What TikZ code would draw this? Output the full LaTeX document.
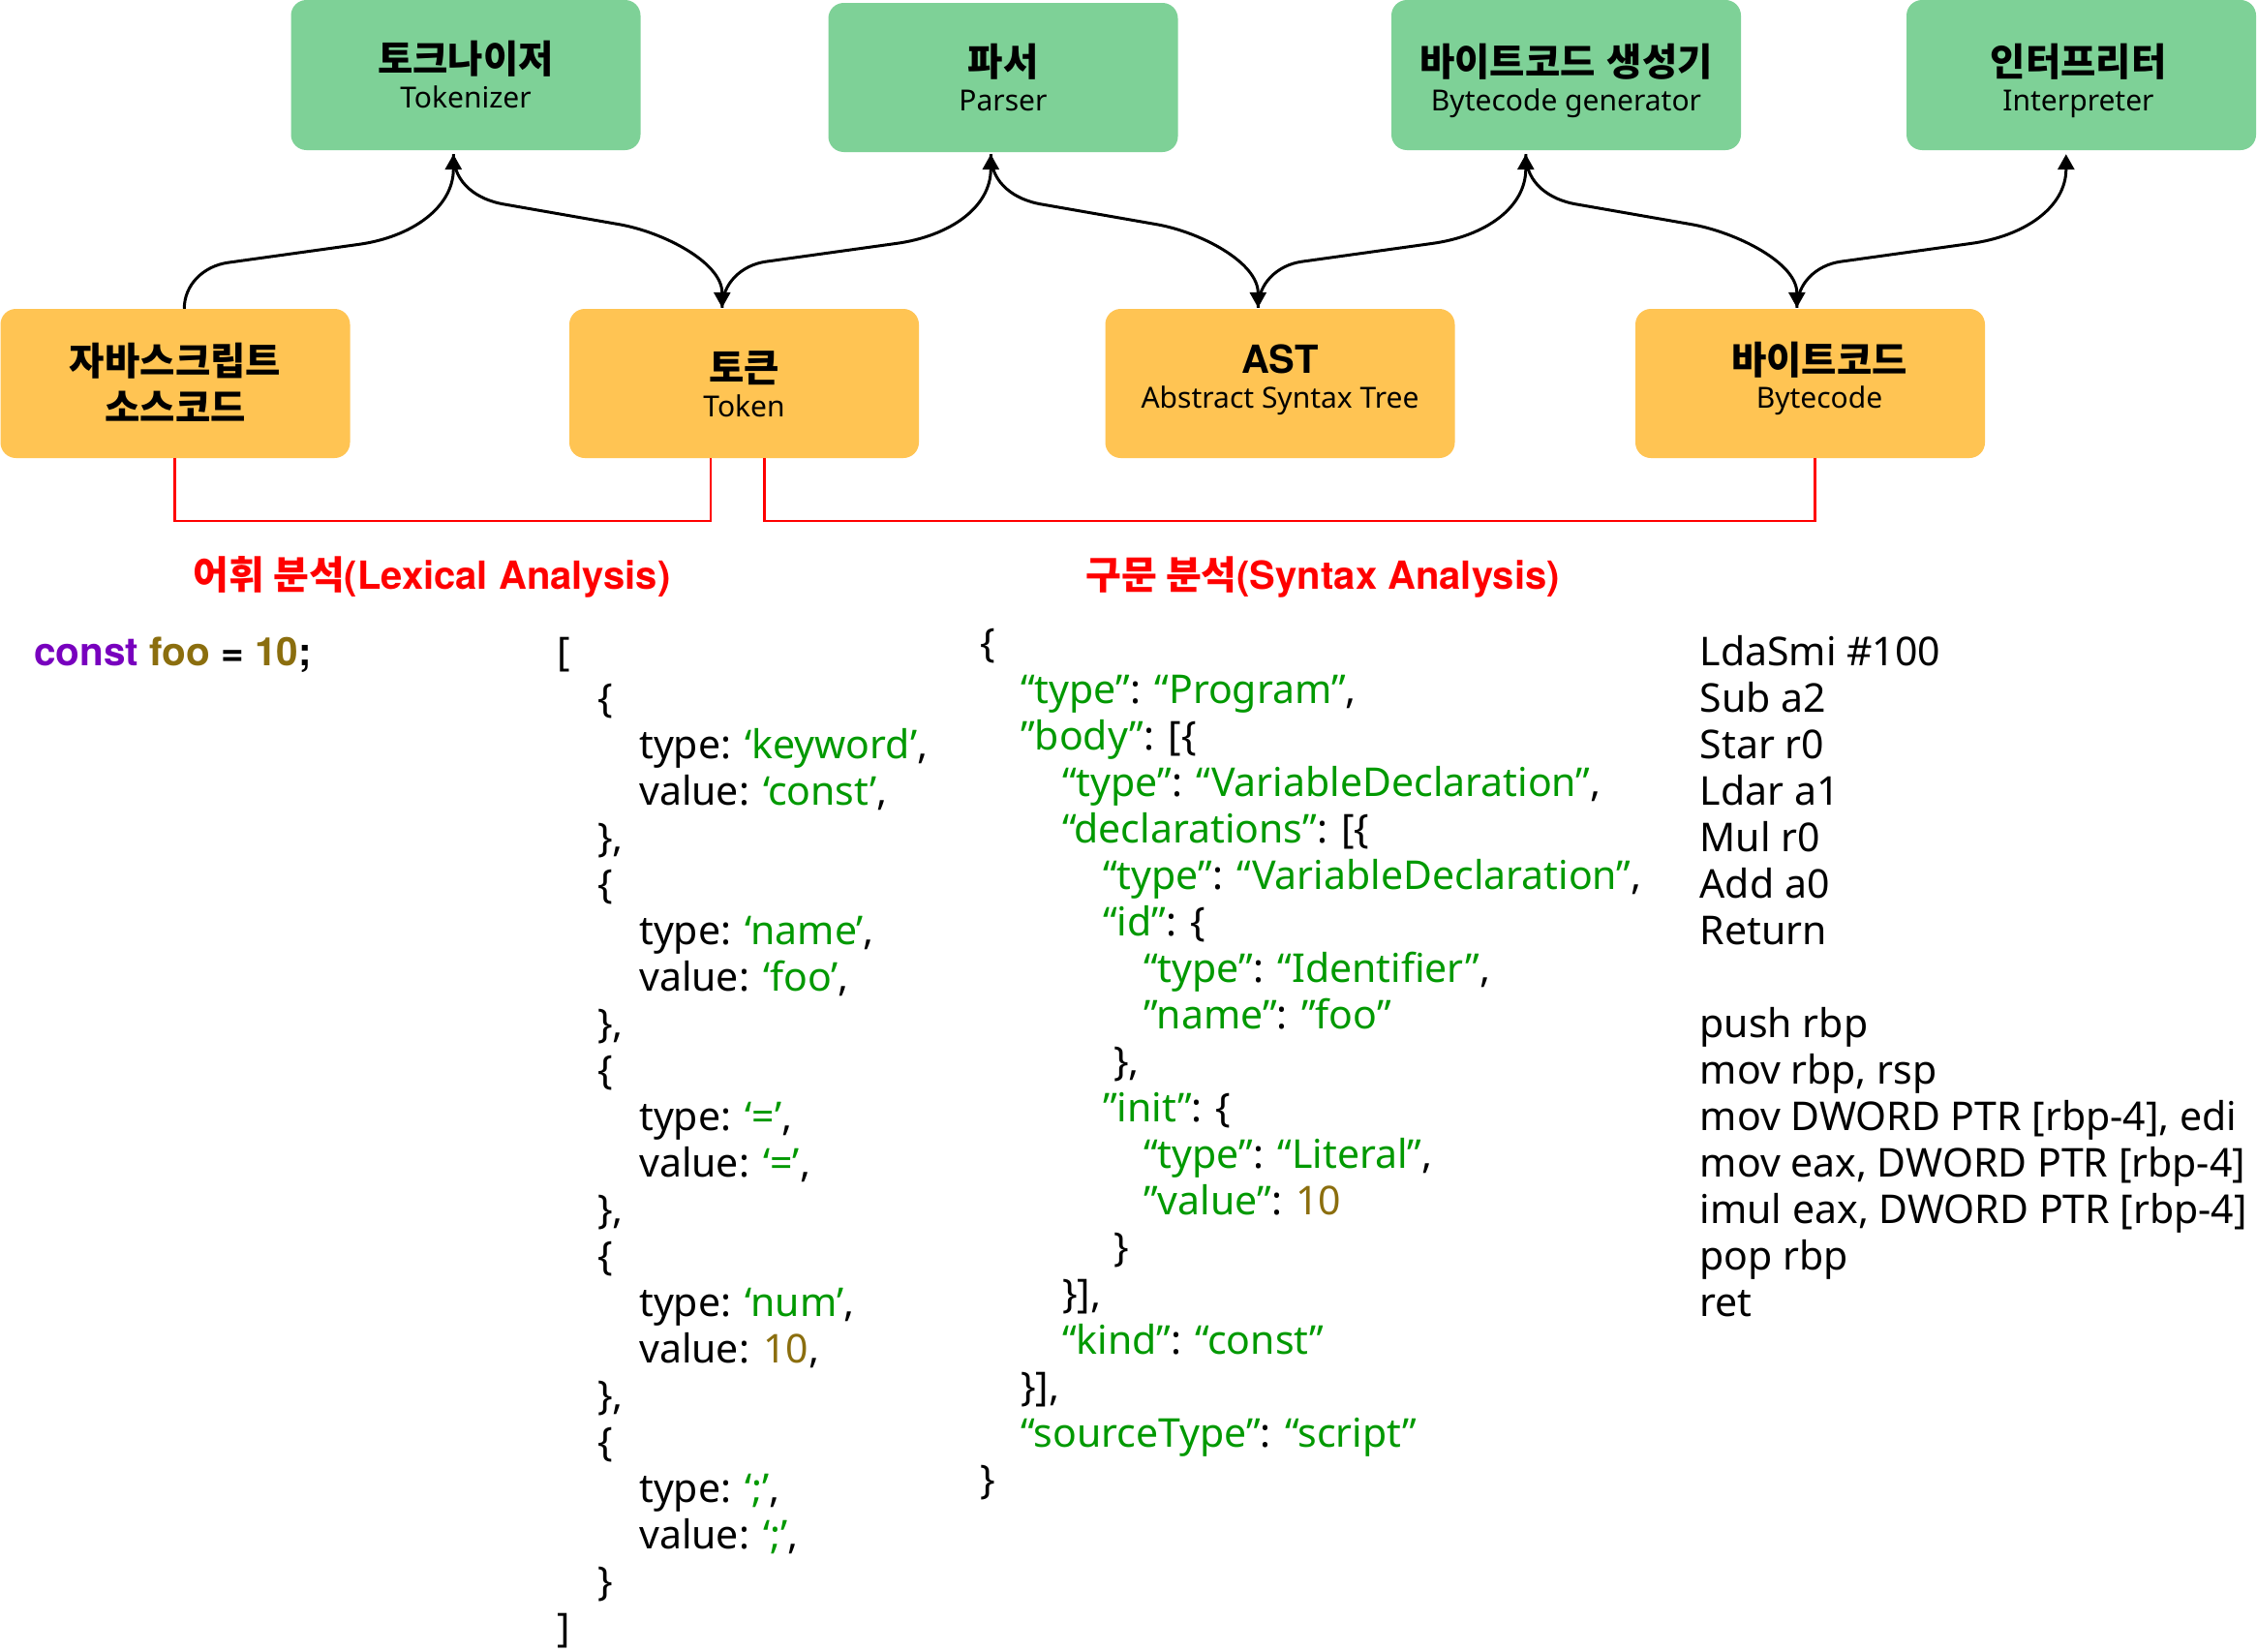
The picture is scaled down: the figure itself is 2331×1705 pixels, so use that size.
\documentclass[tikz,border=0pt]{standalone}
\usepackage{fontspec}
\setmainfont{Noto Sans}
\newfontfamily\kr{Noto Sans CJK KR}
\newfontfamily\hb{TeX Gyre Heros}
\usetikzlibrary{arrows.meta,calc}
\definecolor{gfill}{HTML}{7ED197}
\definecolor{ofill}{HTML}{FFC453}
\definecolor{cgreen}{HTML}{009900}
\definecolor{cpurple}{HTML}{7800BE}
\definecolor{colive}{HTML}{8B6E0E}
\definecolor{cred}{HTML}{FF0000}
\newcommand\gq[1]{\textcolor{cgreen}{#1}}
\newcommand\oq[1]{\textcolor{colive}{#1}}
\newcommand\codeln[2]{\hbox{\hskip#1pt\relax#2}}
\newcommand\codecol[1]{\vtop{\baselineskip=48pt\lineskiplimit=-200pt\lineskip=0pt #1}}
\newcommand\upflow[2]{\draw[flow] (#1) .. controls ($(#1)+(0,-25)$) and ($(#1)+(20,-44)$) .. ($(#1)+(45,-47.6)$) -- ($(#1)+(180,-66.4)$) .. controls ($(#1)+(235,-74)$) and ($(#2)+(0,55)$) .. (#2);}
\newcommand\downflow[2]{\draw[flow] (#1) .. controls ($(#1)+(0,31)$) and ($(#1)+(26,47)$) .. ($(#1)+(51,51.5)$) -- ($(#1)+(171,72.5)$) .. controls ($(#1)+(216,80.3)$) and ($(#2)+(0,-47)$) .. (#2);}
\tikzset{
  box/.style={rounded corners=16pt, minimum width=361pt, minimum height=155pt, inner sep=0pt, draw=none},
  gbox/.style={box, fill=gfill},
  obox/.style={box, fill=ofill},
  ttl/.style={font=\kr\bfseries\fontsize{39.5}{46}\selectfont, inner sep=0pt, anchor=center},
  ttllat/.style={font=\hb\bfseries\fontsize{40}{48}\selectfont, inner sep=0pt, anchor=base},
  sub/.style={font=\fontsize{30}{36}\selectfont, inner sep=0pt, anchor=base},
  flow/.style={line width=3pt, -{Triangle[length=16pt,width=17pt]}},
  bracket/.style={draw=cred, line width=2.5pt},
  lbl/.style={text=cred, inner sep=0pt, anchor=base},
  code/.style={font=\fontsize{41}{48}\selectfont, inner sep=0pt, anchor=base west}
}
\begin{document}
\begin{tikzpicture}[x=1pt,y=-1pt]
\fill[white] (0,0) rectangle (2331,1705);
\useasboundingbox (0,0) rectangle (2331,1705);

% boxes
\node[gbox] (g1) at (481,77.5) {};
\node[gbox, minimum height=154pt] (g2) at (1036,80) {};
\node[gbox] (g3) at (1617.5,77.5) {};
\node[gbox] (g4) at (2149.5,77.5) {};
\node[obox, minimum height=154pt] (o1) at (181,396) {};
\node[obox, minimum height=154pt] (o2) at (768.5,396) {};
\node[obox, minimum height=154pt] (o3) at (1322,396) {};
\node[obox, minimum height=154pt] (o4) at (1869.5,396) {};

% box texts
\node[ttl] (g1t) at (481,61) {토크나이저};
\node[sub] (g1s) at (481,111) {Tokenizer};
\node[ttl] (g2t) at (1036,64) {파서};
\node[sub] (g2s) at (1036,114.5) {Parser};
\node[ttl] (g3t) at (1617.5,64) {바이트코드\hspace{12pt}생성기};
\node[sub] (g3s) at (1617.5,114.5) {Bytecode generator};
\node[ttl] (g4t) at (2146.5,64) {인터프리터};
\node[sub] (g4s) at (2146.5,114.5) {Interpreter};
\node[ttl] (o1t) at (181,373) {자바스크립트};
\node[ttl] (o1u) at (181,420) {소스코드};
\node[ttl] (o2t) at (768.5,380) {토큰};
\node[sub] (o2s) at (768.5,430) {Token};
\node[ttllat] (o3t) at (1322,385) {AST};
\node[sub] (o3s) at (1322,421.7) {Abstract Syntax Tree};
\node[ttl] (o4t) at (1879,371.7) {바이트코드};
\node[sub] (o4s) at (1879,421.7) {Bytecode};

% anchors
\coordinate (a0) at ($(o1.north west)+(190,0)$);
\coordinate (a1) at ($(g1.south west)+(168,4)$);
\coordinate (a2) at ($(o2.north west)+(158,-1)$);
\coordinate (a3) at ($(g2.south west)+(168,2)$);
\coordinate (a4) at ($(o3.north west)+(158,-1)$);
\coordinate (a5) at ($(g3.south west)+(139,4)$);
\coordinate (a6) at ($(o4.north west)+(167,-1)$);
\coordinate (a7) at ($(g4.south west)+(165,4)$);

\upflow{a0}{a1}
\downflow{a1}{a2}
\upflow{a2}{a3}
\downflow{a3}{a4}
\upflow{a4}{a5}
\downflow{a5}{a6}
\upflow{a6}{a7}

% brackets
\draw[bracket] ($(o1.south west)+(180,0)$) -- ++(0,64.7) -| ($(o2.south west)+(146,0)$);
\draw[bracket] ($(o2.south west)+(201.5,0)$) -- ++(0,64.7) -| ($(o4.south west)+(185.6,0)$);

\node[lbl] (lexl) at (446,608) {{\kr\bfseries\fontsize{40}{46}\selectfont 어휘 분석}{\hb\bfseries\fontsize{40}{48}\selectfont(Lexical Analysis)}};
\node[lbl] (synl) at (1366,608) {{\kr\bfseries\fontsize{40}{46}\selectfont 구문 분석}{\hb\bfseries\fontsize{40}{48}\selectfont(Syntax Analysis)}};

% source
\node[code] (src) at (35,687) {{\hb\bfseries\fontsize{40.5}{48}\selectfont\textcolor{cpurple}{const} \textcolor{colive}{foo} = \textcolor{colive}{10};}};

% tokens
\node[code] (tok) at (575,687) {\codecol{%
\codeln{0}{[}%
\codeln{42}{\{}%
\codeln{85}{type: \gq{‘keyword’},}%
\codeln{85}{value: \gq{‘const’},}%
\codeln{42}{\},}%
\codeln{42}{\{}%
\codeln{85}{type: \gq{‘name’},}%
\codeln{85}{value: \gq{‘foo’},}%
\codeln{42}{\},}%
\codeln{42}{\{}%
\codeln{85}{type: \gq{‘=’},}%
\codeln{85}{value: \gq{‘=’},}%
\codeln{42}{\},}%
\codeln{42}{\{}%
\codeln{85}{type: \gq{‘num’},}%
\codeln{85}{value: \oq{10},}%
\codeln{42}{\},}%
\codeln{42}{\{}%
\codeln{85}{type: \gq{‘;’},}%
\codeln{85}{value: \gq{‘;’},}%
\codeln{42}{\}}%
\codeln{0}{]}%
}};

% AST
\node[code] (ast) at (1012,678) {\codecol{%
\codeln{0}{\{}%
\codeln{42}{\gq{“type”}: \gq{“Program”},}%
\codeln{42}{\gq{”body”}: [\{}%
\codeln{85}{\gq{“type”}: \gq{“VariableDeclaration”},}%
\codeln{85}{\gq{“declarations”}: [\{}%
\codeln{127}{\gq{“type”}: \gq{“VariableDeclaration”},}%
\codeln{127}{\gq{“id”}: \{}%
\codeln{169}{\gq{“type”}: \gq{“Identifier”},}%
\codeln{169}{\gq{”name”}: \gq{”foo”}}%
\codeln{138}{\},}%
\codeln{127}{\gq{”init”}: \{}%
\codeln{169}{\gq{“type”}: \gq{“Literal”},}%
\codeln{169}{\gq{”value”}: \oq{10}}%
\codeln{138}{\}}%
\codeln{85}{\}],}%
\codeln{85}{\gq{“kind”}: \gq{“const”}}%
\codeln{42}{\}],}%
\codeln{42}{\gq{“sourceType”}: \gq{“script”}}%
\codeln{0}{\}}%
}};

% bytecode
\node[code] (bc) at (1755.5,687) {\codecol{%
\codeln{0}{LdaSmi \#100}%
\codeln{0}{Sub a2}%
\codeln{0}{Star r0}%
\codeln{0}{Ldar a1}%
\codeln{0}{Mul r0}%
\codeln{0}{Add a0}%
\codeln{0}{Return}%
\codeln{0}{}%
\codeln{0}{push rbp}%
\codeln{0}{mov rbp, rsp}%
\codeln{0}{mov DWORD PTR [rbp-4], edi}%
\codeln{0}{mov eax, DWORD PTR [rbp-4]}%
\codeln{0}{imul eax, DWORD PTR [rbp-4]}%
\codeln{0}{pop rbp}%
\codeln{0}{ret}%
}};
\end{tikzpicture}
\end{document}
